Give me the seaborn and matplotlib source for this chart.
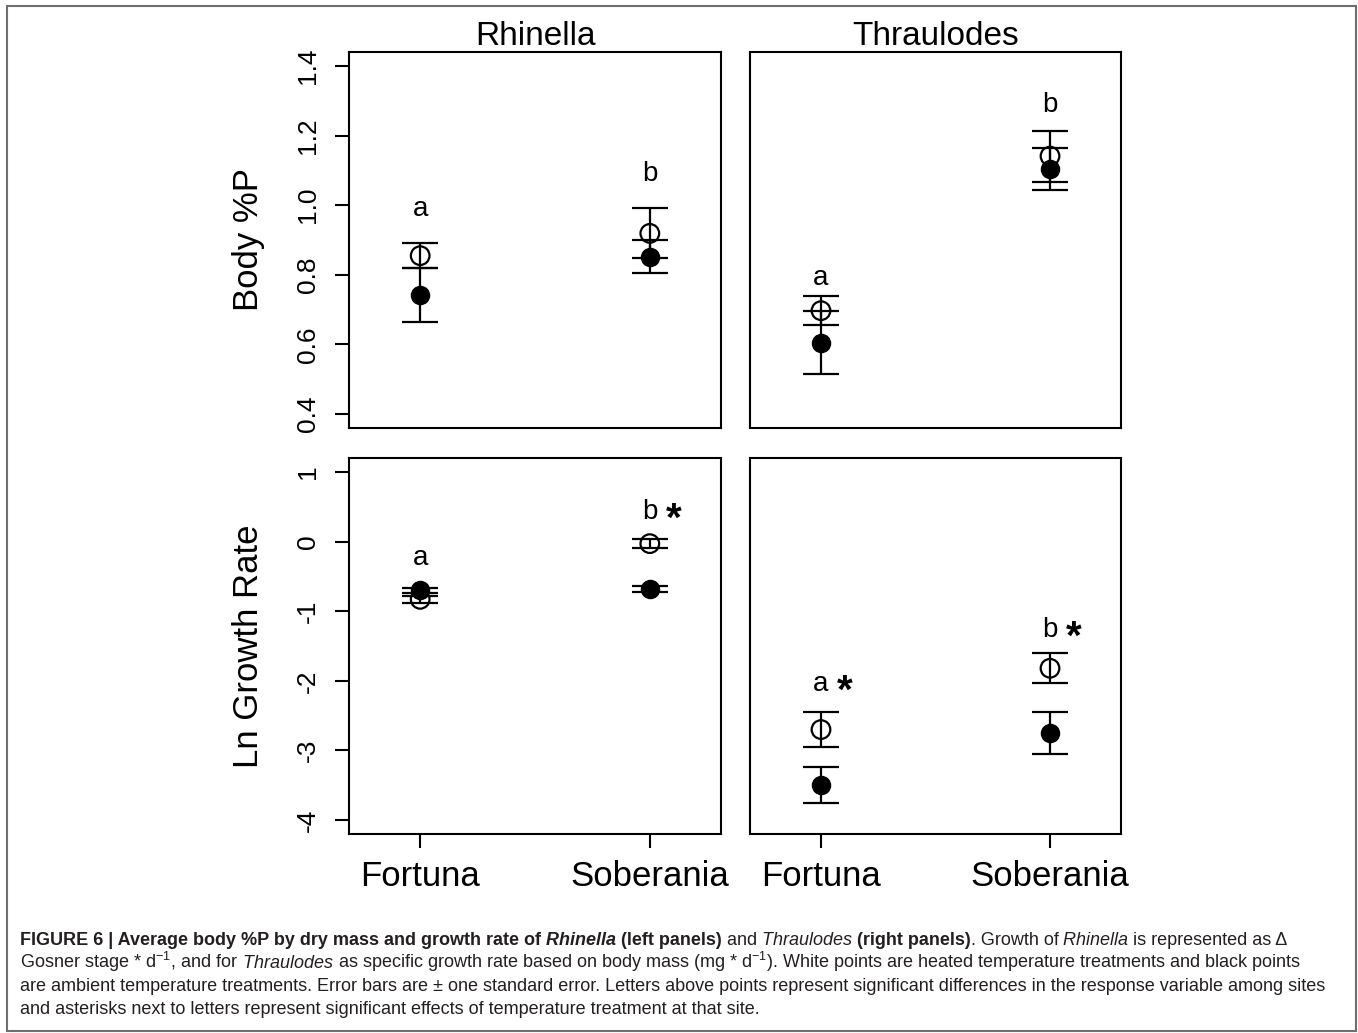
import numpy as np
import pandas as pd
import matplotlib
matplotlib.use("Agg")
import matplotlib.pyplot as plt
import seaborn as sns
from matplotlib.patches import Rectangle

# ---------------- data ----------------
sites = ["Fortuna", "Soberania"]
species = ["Rhinella", "Thraulodes"]
responses = ["Body %P", "Ln Growth Rate"]

p_ticks = [0.4, 0.6, 0.8, 1.0, 1.2, 1.4]
p_ticklabels = ["0.4", "0.6", "0.8", "1.0", "1.2", "1.4"]
gr_ticks = [-4, -3, -2, -1, 0, 1]
gr_ticklabels = ["-4", "-3", "-2", "-1", "0", "1"]

# Body %P  (heated = open points, ambient = filled points), mean and SE
rhinella_p_heated = [0.855, 0.919]
rhinella_p_heated_se = [0.036, 0.072]
rhinella_p_ambient = [0.742, 0.852]
rhinella_p_ambient_se = [0.078, 0.048]
thraulodes_p_heated = [0.697, 1.141]
thraulodes_p_heated_se = [0.042, 0.073]
thraulodes_p_ambient = [0.605, 1.104]
thraulodes_p_ambient_se = [0.090, 0.060]

# Ln growth rate
rhinella_gr_heated = [-0.83, -0.03]
rhinella_gr_heated_se = [0.05, 0.068]
rhinella_gr_ambient = [-0.70, -0.68]
rhinella_gr_ambient_se = [0.034, 0.04]
thraulodes_gr_heated = [-2.70, -1.82]
thraulodes_gr_heated_se = [0.247, 0.216]
thraulodes_gr_ambient = [-3.50, -2.75]
thraulodes_gr_ambient_se = [0.259, 0.30]

# significance letters, their heights, and temperature-effect asterisks
rhinella_p_letters = ["a", "b"]
rhinella_p_letter_y = [0.99, 1.09]
rhinella_p_stars = [False, False]
thraulodes_p_letters = ["a", "b"]
thraulodes_p_letter_y = [0.79, 1.287]
thraulodes_p_stars = [False, False]
rhinella_gr_letters = ["a", "b"]
rhinella_gr_letter_y = [-0.23, 0.43]
rhinella_gr_stars = [False, True]
thraulodes_gr_letters = ["a", "b"]
thraulodes_gr_letter_y = [-2.04, -1.265]
thraulodes_gr_stars = [True, True]

# ---------------- style ----------------
sns.set_theme(style="white")
plt.rcParams["font.family"] = ["Liberation Sans", "DejaVu Sans"]
plt.rcParams["axes.unicode_minus"] = False
plt.rcParams["mathtext.fontset"] = "custom"
plt.rcParams["mathtext.rm"] = "Liberation Sans"
plt.rcParams["mathtext.default"] = "regular"

W, H = 1358, 1033
fig = plt.figure(figsize=(W / 100, H / 100), dpi=100)
fig.patch.set_facecolor("white")


def px_rect(x0, y0, x1, y1):
    return [x0 / W, 1 - y1 / H, (x1 - x0) / W, (y1 - y0) / H]


ax_tl = fig.add_axes(px_rect(349, 52, 721, 428))
ax_tr = fig.add_axes(px_rect(750, 52, 1121, 428))
ax_bl = fig.add_axes(px_rect(349, 458, 721, 834))
ax_br = fig.add_axes(px_rect(750, 458, 1121, 834))


def draw_panel(ax, heated, heated_se, ambient, ambient_se, letters, letter_y, stars):
    pos = np.arange(1, len(sites) + 1)
    df = pd.DataFrame({
        "pos": np.concatenate([pos, pos]),
        "value": list(heated) + list(ambient),
        "se": list(heated_se) + list(ambient_se),
        "treatment": ["heated"] * len(sites) + ["ambient"] * len(sites),
    })
    h = df[df["treatment"] == "heated"]
    a = df[df["treatment"] == "ambient"]
    sns.scatterplot(data=h, x="pos", y="value", ax=ax, marker="o", s=180,
                    facecolor="none", edgecolor="black", linewidth=1.6,
                    legend=False, zorder=2)
    ax.collections[-1].set_facecolor("none")
    ax.collections[-1].set_edgecolor("black")
    sns.scatterplot(data=a, x="pos", y="value", ax=ax, marker="o", s=170,
                    color="black", edgecolor="black", linewidth=1.0,
                    legend=False, zorder=2.5)
    ax.errorbar(df["pos"], df["value"], yerr=df["se"], fmt="none",
                ecolor="black", elinewidth=1.6, capsize=13, capthick=1.6,
                zorder=3)
    for p, lab, ly, st in zip(pos, letters, letter_y, stars):
        ax.text(p, ly, lab, ha="center", va="center", fontsize=20, color="black")
        if st:
            ax.annotate("*", xy=(p, ly), xytext=(17, -6), textcoords="offset points",
                        ha="center", va="center", fontsize=29, fontweight="bold",
                        color="black")
    ax.set_xlim(0.69, 2.31)
    ax.set_xlabel("")
    ax.set_ylabel("")
    for sp in ax.spines.values():
        sp.set_visible(True)
        sp.set_linewidth(1.5)
        sp.set_color("black")
    ax.set_facecolor("white")
    ax.grid(False)


draw_panel(ax_tl, rhinella_p_heated, rhinella_p_heated_se, rhinella_p_ambient,
           rhinella_p_ambient_se, rhinella_p_letters, rhinella_p_letter_y, rhinella_p_stars)
draw_panel(ax_tr, thraulodes_p_heated, thraulodes_p_heated_se, thraulodes_p_ambient,
           thraulodes_p_ambient_se, thraulodes_p_letters, thraulodes_p_letter_y, thraulodes_p_stars)
draw_panel(ax_bl, rhinella_gr_heated, rhinella_gr_heated_se, rhinella_gr_ambient,
           rhinella_gr_ambient_se, rhinella_gr_letters, rhinella_gr_letter_y, rhinella_gr_stars)
draw_panel(ax_br, thraulodes_gr_heated, thraulodes_gr_heated_se, thraulodes_gr_ambient,
           thraulodes_gr_ambient_se, thraulodes_gr_letters, thraulodes_gr_letter_y, thraulodes_gr_stars)

# y scales
for ax in (ax_tl, ax_tr):
    ax.set_ylim(0.36, 1.44)
for ax in (ax_bl, ax_br):
    ax.set_ylim(-4.2, 1.2)

for ax, ticks, labels, ylab in ((ax_tl, p_ticks, p_ticklabels, responses[0]),
                                (ax_bl, gr_ticks, gr_ticklabels, responses[1])):
    ax.set_yticks(ticks)
    ax.set_yticklabels(labels)
    ax.tick_params(axis="y", left=True, length=10, width=1.5, pad=11,
                   labelsize=19, color="black", labelcolor="black")
    for t in ax.get_yticklabels():
        t.set_rotation(90)
        t.set_va("center")
        t.set_ha("right")
    ax.set_ylabel(ylab, fontsize=25, color="black")
    ax.yaxis.set_label_coords(-0.226, 0.5)

for ax in (ax_tr, ax_br):
    ax.set_yticks([])
    ax.tick_params(axis="y", left=False, labelleft=False)

for ax in (ax_tl, ax_tr):
    ax.set_xticks([])
    ax.tick_params(axis="x", bottom=False, labelbottom=False)

for ax in (ax_bl, ax_br):
    ax.set_xticks(np.arange(1, len(sites) + 1))
    ax.set_xticklabels(sites)
    ax.tick_params(axis="x", bottom=True, length=10, width=1.5, pad=9,
                   labelsize=25, color="black", labelcolor="black")

ax_tl.set_title(species[0], fontsize=24, pad=3, color="black")
ax_tr.set_title(species[1], fontsize=24, pad=3, color="black")

# outer frame
fig.add_artist(Rectangle((7 / W, 1 - 1031 / H), (1356 - 7) / W, (1031 - 6) / H,
                         transform=fig.transFigure, fill=False,
                         edgecolor="#6e6e6e", linewidth=1.5))

# ---------------- caption ----------------
cap_family = ["Liberation Sans", "DejaVu Sans"]

B, N, I = "bold", "normal", "italic"
caption_lines = [
    [("FIGURE 6 | Average body %P by dry mass and growth rate of", B, N),
     (" Rhinella", B, I), (" (left panels)", B, N), (" and", N, N),
     (" Thraulodes", N, I), (" (right panels)", B, N), (". Growth of", N, N),
     (" Rhinella", N, I), (" is represented as \u0394", N, N)],
    [("Gosner stage * d$^{-1}$, and for", N, N), (" Thraulodes", N, I),
     (" as specific growth rate based on body mass (mg * d$^{-1}$). White points are heated temperature treatments and black points", N, N)],
    [("are ambient temperature treatments. Error bars are \u00b1 one standard error. Letters above points represent significant differences in the response variable among sites", N, N)],
    [("and asterisks next to letters represent significant effects of temperature treatment at that site.", N, N)],
]
caption_line_ends = [1316, 1322, 1326, None]
caption_baselines = [945, 968, 991, 1014]

renderer = fig.canvas.get_renderer()


def seg_width(s, size, weight, style):
    t = fig.text(0, 0, s, fontsize=size, fontweight=weight, fontstyle=style,
                 family=cap_family)
    w = t.get_window_extent(renderer).width
    t.remove()
    return w


base = 12.0
fits = []
for segs, end in zip(caption_lines, caption_line_ends):
    if end is None:
        continue
    w = sum(seg_width(s, base, wt, st) for s, wt, st in segs)
    fits.append(base * (end - 20) / w)
cap_size = min(fits)

for segs, yb in zip(caption_lines, caption_baselines):
    x = 20.0
    for s, wt, st in segs:
        t = fig.text(x / W, 1 - yb / H, s, fontsize=cap_size, fontweight=wt,
                     fontstyle=st, family=cap_family, va="baseline", ha="left",
                     color="#231f20")
        x += t.get_window_extent(renderer).width

fig.savefig("out.png", dpi=100, facecolor="white")
